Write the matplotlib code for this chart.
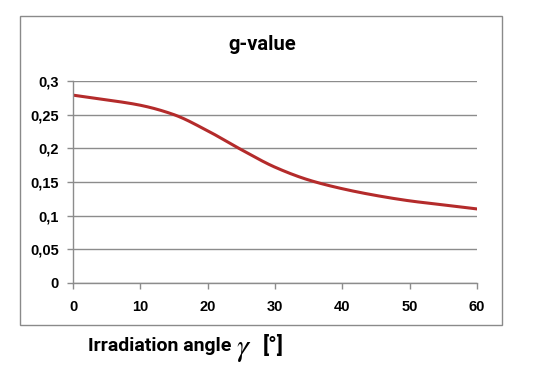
import matplotlib
matplotlib.use("Agg")
import matplotlib.pyplot as plt
from matplotlib.patches import Rectangle
import numpy as np

# g-value versus irradiation angle
angle = [0, 5, 10, 15, 20, 25, 30, 35, 40, 45, 50, 55, 60]
g_value = [0.279, 0.272, 0.264, 0.250, 0.226, 0.198, 0.172, 0.153,
           0.140, 0.130, 0.122, 0.116, 0.110]

x_ticks = [0, 10, 20, 30, 40, 50, 60]
y_ticks = [0, 0.05, 0.1, 0.15, 0.2, 0.25, 0.3]
y_labels = ["0", "0,05", "0,1", "0,15", "0,2", "0,25", "0,3"]

LINE = "#b42b2b"
GRID = "#8c8c8c"

W, H = 555, 377
fig = plt.figure(figsize=(W / 100, H / 100), dpi=100)

# outer chart frame (Excel-style box)
fig.patches.append(Rectangle((20 / W, 1 - 325 / H), 482 / W, 309 / H,
                             transform=fig.transFigure, fill=False,
                             edgecolor="#8a8a8a", linewidth=1.0))

ax = fig.add_axes([73 / W, 1 - 283 / H, 404 / W, 202 / H])


# monotone cubic (PCHIP-like) so the curve looks smooth like the original
def pchip(x, y, xn):
    x = np.asarray(x, float); y = np.asarray(y, float)
    h = np.diff(x); d = np.diff(y) / h
    m = np.zeros_like(y)
    for i in range(1, len(y) - 1):
        if d[i - 1] * d[i] > 0:
            w1 = 2 * h[i] + h[i - 1]; w2 = h[i] + 2 * h[i - 1]
            m[i] = (w1 + w2) / (w1 / d[i - 1] + w2 / d[i])
    m[0] = d[0]; m[-1] = d[-1]
    idx = np.clip(np.searchsorted(x, xn) - 1, 0, len(h) - 1)
    t = (xn - x[idx]) / h[idx]
    h00 = 2 * t**3 - 3 * t**2 + 1; h10 = t**3 - 2 * t**2 + t
    h01 = -2 * t**3 + 3 * t**2; h11 = t**3 - t**2
    return (h00 * y[idx] + h10 * h[idx] * m[idx]
            + h01 * y[idx + 1] + h11 * h[idx] * m[idx + 1])


xs = np.linspace(0, 60, 300)
ax.plot(xs, pchip(angle, g_value, xs), color=LINE, linewidth=2.2,
        solid_capstyle="round")

ax.set_xlim(0, 60)
ax.set_ylim(0, 0.3)
ax.set_xticks(x_ticks)
ax.set_yticks(y_ticks)
ax.set_yticklabels(y_labels)
ax.grid(axis="y", color=GRID, linewidth=1.0)
ax.set_axisbelow(True)
for s in ["top", "right"]:
    ax.spines[s].set_visible(False)
for s in ["left", "bottom"]:
    ax.spines[s].set_color(GRID)
    ax.spines[s].set_linewidth(1.0)
ax.tick_params(direction="out", length=4, color=GRID, width=1.0)
for lab in ax.get_xticklabels() + ax.get_yticklabels():
    lab.set_fontfamily("Liberation Sans")
    lab.set_fontweight("bold")
    lab.set_fontsize(10.5)
ax.tick_params(axis="x", pad=8)
ax.tick_params(axis="y", pad=6)

fig.text(262 / W, 1 - 45 / H, "g-value", ha="center", va="center",
         fontsize=14.5, fontweight="bold", family="Roboto")
fig.text(88 / W, 1 - 346 / H, "Irradiation angle", ha="left",
         va="center", fontsize=14, fontweight="bold", family="Roboto")
fig.text(236 / W, 1 - 349 / H, "$\\gamma$", ha="left",
         va="center", fontsize=22, math_fontfamily="stix")
fig.text(263 / W, 1 - 346 / H, "[°]", ha="left",
         va="center", fontsize=16, fontweight="bold", family="Roboto")

fig.savefig("out.png", dpi=100)
